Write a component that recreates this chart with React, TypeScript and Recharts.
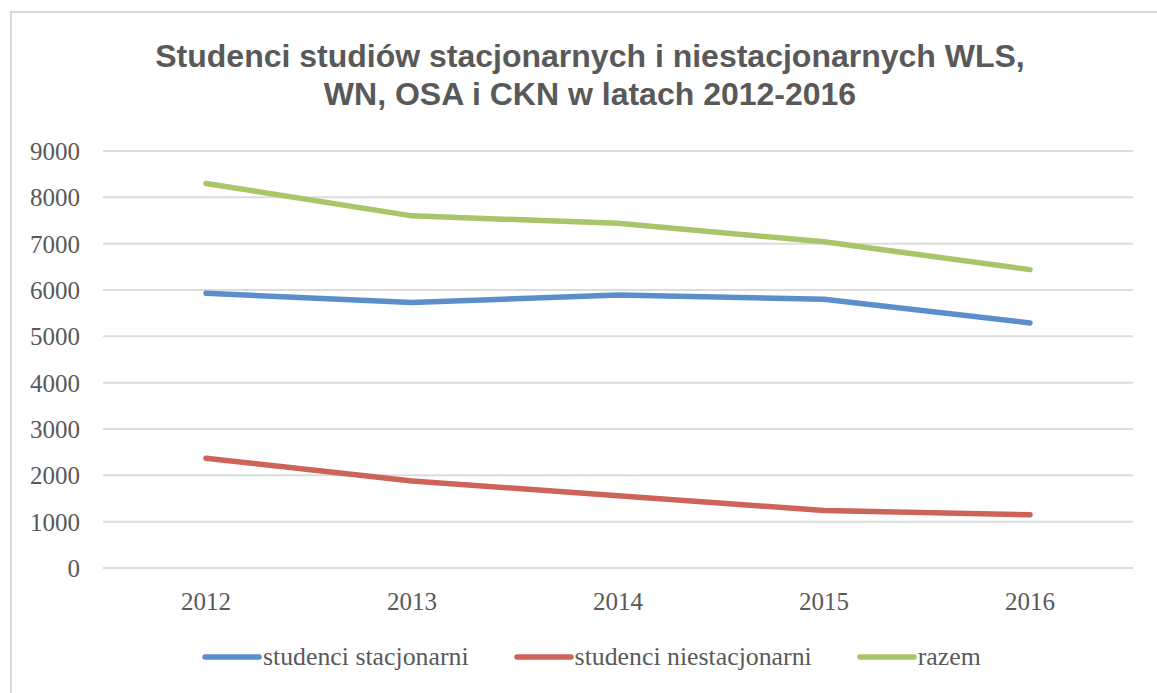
import { LineChart, Line, XAxis, YAxis, CartesianGrid } from 'recharts';

const years = ['2012', '2013', '2014', '2015', '2016'];
const stacjonarni = [5930, 5730, 5890, 5800, 5290];
const niestacjonarni = [2370, 1880, 1560, 1240, 1150];
const razem = [8300, 7600, 7440, 7040, 6440];
const yTicks = [0, 1000, 2000, 3000, 4000, 5000, 6000, 7000, 8000, 9000];

const series = [
  { key: 'stacjonarni', name: 'studenci stacjonarni', color: '#5b8fcb' },
  { key: 'niestacjonarni', name: 'studenci niestacjonarni', color: '#cd6359' },
  { key: 'razem', name: 'razem', color: '#a8c56a' },
];

const data = years.map((year, i) => ({
  year,
  stacjonarni: stacjonarni[i],
  niestacjonarni: niestacjonarni[i],
  razem: razem[i],
}));

const textColor = '#595959';
const serif = '"Liberation Serif", "DejaVu Serif", serif';

function ChartLegend() {
  return (
    <div style={{ display: 'flex', alignItems: 'center', gap: 45 }}>
      {series.map((s) => (
        <div key={s.key} style={{ display: 'flex', alignItems: 'center' }}>
          <svg width={60} height={10} style={{ marginRight: 1 }}>
            <line x1={3} y1={5} x2={57} y2={5} stroke={s.color} strokeWidth={5.5} strokeLinecap="round" />
          </svg>
          <span style={{ fontFamily: serif, fontSize: 25.8, color: textColor }}>{s.name}</span>
        </div>
      ))}
    </div>
  );
}

export default function App() {
  return (
    <div style={{ position: 'absolute', left: 0, top: 0, width: 1157, height: 693, background: '#fff', overflow: 'hidden' }}>
      <div
        style={{
          position: 'absolute',
          left: 10,
          top: 11,
          width: 1200,
          height: 720,
          borderLeft: '2px solid #d9d9d9',
          borderTop: '2px solid #d9d9d9',
        }}
      />
      <div
        style={{
          position: 'absolute',
          left: 0,
          top: 37,
          width: 1180,
          textAlign: 'center',
          fontFamily: '"Liberation Sans", Arial, sans-serif',
          fontWeight: 'bold',
          fontSize: 32,
          lineHeight: '38px',
          color: textColor,
        }}
      >
        Studenci studiów stacjonarnych i niestacjonarnych WLS,
        <br />
        WN, OSA i CKN w latach 2012-2016
      </div>
      <div style={{ position: 'absolute', left: 0, top: 0 }}>
        <LineChart width={1157} height={693} data={data} margin={{ top: 151, right: 24, bottom: 95, left: 0 }}>
          <CartesianGrid vertical={false} stroke="#dcdcdc" strokeWidth={2} />
          <XAxis
            dataKey="year"
            height={30}
            padding={{ left: 103, right: 103 }}
            axisLine={false}
            tickLine={false}
            tickMargin={18}
            tick={{ fill: textColor, fontFamily: serif, fontSize: 25 }}
          />
          <YAxis
            width={103}
            domain={[0, 9000]}
            ticks={yTicks}
            interval={0}
            axisLine={false}
            tickLine={false}
            tickMargin={17}
            tick={{ fill: textColor, fontFamily: serif, fontSize: 25 }}
          />
          {series.map((s) => (
            <Line
              key={s.key}
              type="linear"
              dataKey={s.key}
              name={s.name}
              stroke={s.color}
              strokeWidth={5.5}
              strokeLinecap="round"
              strokeLinejoin="round"
              dot={false}
              activeDot={false}
              isAnimationActive={false}
            />
          ))}
        </LineChart>
      </div>
      <div style={{ position: 'absolute', left: 202, top: 642 }}>
        <ChartLegend />
      </div>
    </div>
  );
}
